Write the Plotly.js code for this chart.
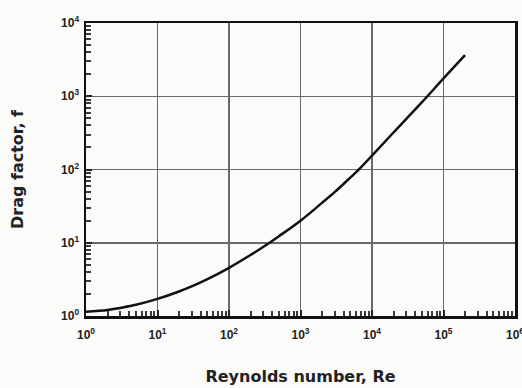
<!DOCTYPE html>
<html>
<head>
<meta charset="utf-8">
<script src="https://cdn.plot.ly/plotly-3.0.1.min.js"></script>
<style>html,body{margin:0;padding:0;background:#fbfbfa;}</style>
</head>
<body>
<div id="chart" style="width:522px;height:388px;"></div>
<script>
// Reynolds number and drag factor
const reynolds = [1, 2, 3, 5, 10, 20, 30, 50, 100, 200, 300, 500, 1000, 2000, 3000, 5000, 7000, 10000, 20000, 50000, 100000, 200000];
const dragFactor = [1.14, 1.21, 1.29, 1.42, 1.71, 2.16, 2.53, 3.18, 4.54, 6.8, 8.75, 12.3, 20, 35, 49, 78, 107, 155, 320, 830, 1750, 3650];

const xTickVals = [1, 10, 100, 1000, 10000, 100000, 1000000];
const xTickText = ['10<sup>0</sup>', '10<sup>1</sup>', '10<sup>2</sup>', '10<sup>3</sup>', '10<sup>4</sup>', '10<sup>5</sup>', '10<sup>6</sup>'];
const yTickVals = [1, 10, 100, 1000, 10000];
const yTickText = ['10<sup>0</sup>', '10<sup>1</sup>', '10<sup>2</sup>', '10<sup>3</sup>', '10<sup>4</sup>'];

const xTitle = 'Reynolds number, Re';
const yTitle = 'Drag factor, f';

// minor log tick positions (2..9 in each decade)
function minorVals(decades) {
  const out = [];
  for (let d = 0; d < decades; d++) {
    for (let m = 2; m <= 9; m++) out.push(m * Math.pow(10, d));
  }
  return out;
}

const tickFont = {family: 'Liberation Sans, Arial, sans-serif', size: 12, color: '#222', weight: 'bold'};
const titleFont = {family: 'DejaVu Sans, sans-serif', size: 16, color: '#222', weight: 'bold'};

const trace = {
  x: reynolds,
  y: dragFactor,
  type: 'scatter',
  mode: 'lines',
  line: {color: '#111', width: 2.5, shape: 'spline', smoothing: 1},
  hoverinfo: 'x+y'
};

const axisCommon = {
  type: 'log',
  tickmode: 'array',
  showgrid: true,
  gridcolor: '#6a6a6a',
  gridwidth: 1.5,
  showline: true,
  linecolor: '#111',
  linewidth: 2.5,
  mirror: true,
  ticks: 'inside',
  ticklen: 6,
  tickwidth: 2,
  tickcolor: '#222',
  tickfont: tickFont,
  ticklabeloverflow: 'allow'
};

const minorStyle = {tickmode: 'array', ticks: 'inside', ticklen: 5, tickwidth: 2, tickcolor: '#3a3a3a', showgrid: false};

const layout = {
  width: 522,
  height: 388,
  margin: {l: 86, r: 7, t: 23, b: 72},
  paper_bgcolor: '#fbfbfa',
  plot_bgcolor: '#fbfbfa',
  showlegend: false,
  xaxis: Object.assign({}, axisCommon, {
    range: [0, 6],
    tickvals: xTickVals,
    ticktext: xTickText,
    ticklabelstandoff: 6,
    minor: Object.assign({}, minorStyle, {tickvals: minorVals(6)}),
    title: {text: xTitle, font: titleFont, standoff: 30}
  }),
  yaxis: Object.assign({}, axisCommon, {
    range: [0, 4],
    tickvals: yTickVals,
    ticktext: yTickText,
    ticklabelstandoff: 2,
    minor: Object.assign({}, minorStyle, {tickvals: minorVals(4)}),
    title: {text: yTitle, font: titleFont, standoff: 34}
  })
};

Plotly.newPlot('chart', [trace], layout, {displayModeBar: false, staticPlot: true});
</script>
</body>
</html>
